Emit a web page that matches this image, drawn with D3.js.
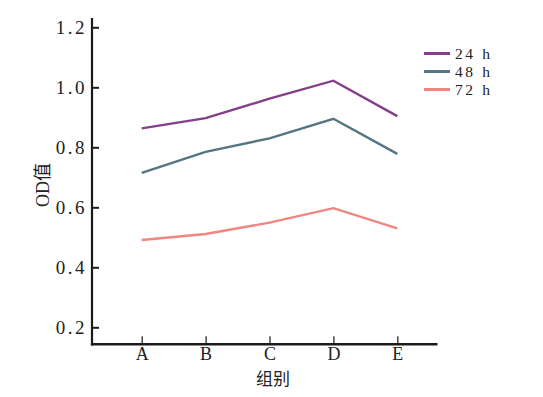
<!DOCTYPE html>
<html><head><meta charset="utf-8">
<script src="https://cdn.jsdelivr.net/npm/d3@7"></script>
<style>body{margin:0;background:#fff}svg{display:block}</style>
</head><body>
<svg id="c" width="543" height="397"></svg>
<script>
const categories = ["A","B","C","D","E"];
const series24 = [0.863, 0.897, 0.962, 1.022, 0.904];
const series48 = [0.715, 0.785, 0.830, 0.895, 0.778];
const series72 = [0.491, 0.511, 0.549, 0.597, 0.530];
const seriesNames = ["24 h","48 h","72 h"];
const seriesColors = ["#843F89","#557583","#F2857F"];
const yTicks = [0.2,0.4,0.6,0.8,1.0,1.2];

const svg = d3.select("#c");
const x = d3.scalePoint().domain(categories).range([141.7, 397.3]);
const y = d3.scaleLinear().domain([0.2,1.2]).range([327.3, 27.3]);
const axisX0 = 92, axisX1 = 437.5, axisYTop = 18, axisYBot = 344.3;

// y axis
const gy = svg.append("g").attr("transform", `translate(${axisX0},0)`)
  .call(d3.axisRight(y).tickValues(yTicks).tickSize(7).tickFormat(d3.format(".1f")));
gy.select(".domain").remove();
gy.selectAll(".tick line").attr("stroke","#1a1a1a").attr("stroke-width",2);
gy.selectAll(".tick text").attr("x",-5).attr("text-anchor","end")
  .attr("font-family","'Liberation Serif', serif").attr("font-size",19)
  .attr("letter-spacing","2.5px").attr("fill","#222").attr("dy","0.33em");

// x axis
const gx = svg.append("g").attr("transform", `translate(0,${axisYBot})`)
  .call(d3.axisTop(x).tickSize(8));
gx.select(".domain").remove();
gx.selectAll(".tick line").attr("stroke","#1a1a1a").attr("stroke-width",1.2);
gx.selectAll(".tick text").attr("y",16).attr("dy",0).attr("text-anchor","middle")
  .attr("font-family","'Liberation Serif', serif").attr("font-size",18).attr("fill","#222");

// axis lines
svg.append("line").attr("x1",axisX0).attr("x2",axisX0).attr("y1",axisYTop).attr("y2",axisYBot+1.2)
  .attr("stroke","#1a1a1a").attr("stroke-width",2.2);
svg.append("line").attr("x1",axisX0-1.1).attr("x2",axisX1).attr("y1",axisYBot).attr("y2",axisYBot)
  .attr("stroke","#1a1a1a").attr("stroke-width",2.4);

// lines
const line = d3.line().x((d,i)=>x(categories[i])).y(d=>y(d));
[series24, series48, series72].forEach((s,k)=>{
  svg.append("path").datum(s).attr("d",line).attr("fill","none")
    .attr("stroke",seriesColors[k]).attr("stroke-width",2.4).attr("stroke-linejoin","miter");
});

// legend
const lg = svg.append("g");
const legY = [53.5, 71.5, 89.5];
seriesNames.forEach((n,k)=>{
  lg.append("line").attr("x1",424).attr("x2",450).attr("y1",legY[k]).attr("y2",legY[k])
    .attr("stroke",seriesColors[k]).attr("stroke-width",3);
  lg.append("text").attr("x",455).attr("y",legY[k]).attr("dy","0.33em")
    .attr("font-family","'Liberation Serif', serif").attr("font-size",15.5)
    .attr("letter-spacing","2.6px").attr("fill","#222").text(n);
});

// axis titles
svg.append("text").attr("x",273).attr("y",385).attr("text-anchor","middle")
  .attr("font-family","'Noto Sans CJK SC', sans-serif").attr("font-size",17).attr("fill","#222").text("组别");
svg.append("text").attr("transform","translate(49,185) rotate(-90)").attr("text-anchor","middle")
  .attr("font-family","'Liberation Serif', 'Noto Sans CJK SC', serif").attr("font-size",18).attr("fill","#222").text("OD值");
</script>
</body></html>
